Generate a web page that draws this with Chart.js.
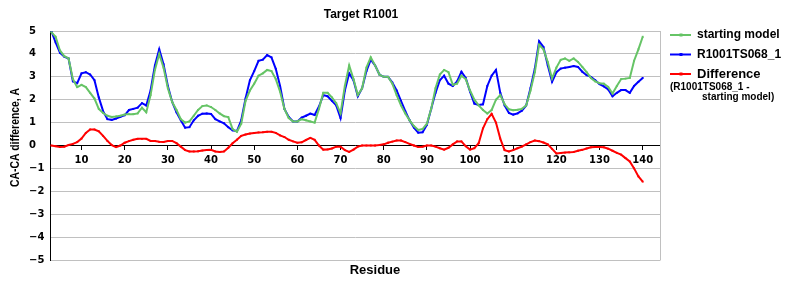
<!DOCTYPE html>
<html>
<head>
<meta charset="utf-8">
<title>Target R1001</title>
<script src="https://cdn.jsdelivr.net/npm/chart.js@4.4.0/dist/chart.umd.min.js"></script>
<style>
  body { margin: 0; background: #fff; }
  canvas { display: block; }
</style>
</head>
<body>
<canvas id="caChart" width="800" height="300"></canvas>
<script>
// CA-CA difference per residue
const firstResidue = 3;

const startingModel = [
  4.95, 4.75, 4.15, 3.9, 3.8, 2.9, 2.55, 2.65, 2.55, 2.3,
  2.05, 1.6, 1.42, 1.3, 1.25, 1.27, 1.3, 1.35, 1.37, 1.37,
  1.4, 1.65, 1.45, 2.2, 3.3, 4.0, 3.4, 2.5, 1.9, 1.55,
  1.15, 1.0, 1.05, 1.3, 1.55, 1.72, 1.75, 1.68, 1.55, 1.4,
  1.28, 1.24, 0.72, 0.6, 0.95, 1.95, 2.4, 2.7, 3.05, 3.15,
  3.3, 3.25, 2.9, 2.35, 1.6, 1.2, 1.05, 1.05, 1.15, 1.1,
  1.05, 1.0, 1.6, 2.3, 2.3, 2.1, 1.85, 1.4, 2.6, 3.5,
  2.9, 2.2, 2.5, 3.4, 3.85, 3.5, 3.1, 3.0, 3.0, 2.7,
  2.2, 1.75, 1.4, 1.1, 0.85, 0.68, 0.72, 0.95, 1.6, 2.5,
  3.1, 3.3, 3.2, 2.65, 2.7, 3.05, 2.9, 2.4, 2.0, 1.75,
  1.55, 1.4, 1.55, 2.0, 2.2, 1.8, 1.58, 1.54, 1.56, 1.6,
  1.75, 2.4, 3.2, 4.4, 4.2, 3.65, 2.92, 3.4, 3.74, 3.8,
  3.7, 3.8, 3.65, 3.43, 3.2, 2.95, 2.8, 2.72, 2.7, 2.56,
  2.27, 2.6, 2.9, 2.92, 2.95, 3.7, 4.2, 4.75
];

const targetModel = [
  5.0, 4.5, 4.05, 3.88, 3.8, 2.8, 2.72, 3.15, 3.2, 3.1,
  2.85, 2.1, 1.5, 1.15, 1.12, 1.18, 1.25, 1.32, 1.55, 1.6,
  1.65, 1.85, 1.75, 2.4, 3.5, 4.2, 3.55, 2.6, 1.9, 1.45,
  1.1, 0.78, 0.8, 1.1, 1.3, 1.39, 1.4, 1.38, 1.15, 1.05,
  0.97, 0.8, 0.66, 0.63, 1.1, 2.05, 2.85, 3.25, 3.7, 3.75,
  3.95, 3.85, 3.35, 2.6, 1.6, 1.25, 1.05, 1.05, 1.22, 1.3,
  1.39, 1.33, 1.7, 2.2, 2.15, 1.95, 1.75, 1.2, 2.4, 3.15,
  2.85, 2.15, 2.5, 3.25, 3.75, 3.5, 3.1, 3.0, 3.0, 2.75,
  2.4, 1.95, 1.5, 1.1, 0.78, 0.56, 0.58, 0.9, 1.6, 2.3,
  2.85, 3.05, 2.7, 2.6, 2.8, 3.22, 2.95, 2.35, 1.83, 1.77,
  1.8, 2.6, 3.05, 3.3, 2.3, 1.75, 1.42, 1.35, 1.4, 1.52,
  1.75, 2.5, 3.35, 4.55, 4.3, 3.5, 2.78, 3.2, 3.36, 3.4,
  3.43, 3.47, 3.43, 3.22, 3.07, 3.0, 2.85, 2.68, 2.58, 2.45,
  2.15, 2.3, 2.42, 2.42, 2.3, 2.6, 2.78, 2.95
];

const difference = [
  0.0, -0.03, -0.07, -0.05, 0.02, 0.07, 0.15, 0.3, 0.55, 0.7,
  0.7, 0.62, 0.42, 0.2, 0.02, -0.07, 0.0, 0.12, 0.19, 0.25,
  0.29, 0.29, 0.29, 0.2, 0.2, 0.16, 0.15, 0.2, 0.2, 0.1,
  -0.05, -0.2, -0.26, -0.26, -0.25, -0.22, -0.2, -0.19, -0.26, -0.28,
  -0.26, -0.1, 0.1, 0.25, 0.42, 0.48, 0.52, 0.55, 0.57, 0.58,
  0.6, 0.6, 0.55, 0.44, 0.37, 0.25, 0.18, 0.12, 0.14, 0.24,
  0.33, 0.25, 0.0, -0.18, -0.17, -0.13, -0.05, -0.05, -0.2, -0.28,
  -0.18, -0.05, 0.0, 0.0, 0.0, 0.0, 0.02, 0.05, 0.12, 0.17,
  0.22, 0.22, 0.15, 0.07, 0.0, -0.07, -0.05, 0.0, 0.0, -0.05,
  -0.12, -0.18, -0.1, 0.05, 0.18, 0.18, -0.03, -0.18, -0.12, 0.1,
  0.75, 1.15, 1.38, 1.0, 0.3, -0.2, -0.26, -0.2, -0.12, -0.05,
  0.05, 0.15, 0.22, 0.19, 0.13, 0.05, -0.15, -0.35, -0.33, -0.31,
  -0.3, -0.28, -0.23, -0.19, -0.13, -0.08, -0.07, -0.07, -0.08, -0.14,
  -0.23, -0.32, -0.4, -0.55, -0.7, -1.0, -1.35, -1.58
];

const xTickValues = [10, 20, 30, 40, 50, 60, 70, 80, 90, 100, 110, 120, 130, 140];
const yTickValues = [-5, -4, -3, -2, -1, 0, 1, 2, 3, 4, 5];

const residues = startingModel.map((_, i) => firstResidue + i);

const GREEN = '#66c466';
const BLUE = '#0000ff';
const RED = '#ff0000';
const BOLD = '"Liberation Sans", Arial, sans-serif';

function toPoints(values) {
    return values.map((v, i) => ({ x: residues[i], y: v }));
}

function series(label, values, color) {
    return {
        label: label,
        data: toPoints(values),
        borderColor: color,
        backgroundColor: color,
        borderWidth: 2,
        pointStyle: 'rect',
        pointRadius: 1.3,
        pointBorderWidth: 0,
        tension: 0,
        fill: false
    };
}

// title, axis titles, legend and the plot's right border
const chartText = {
    id: 'chartText',
    afterDraw(chart) {
        const ctx = chart.ctx;
        const area = chart.chartArea;
        ctx.save();

        ctx.strokeStyle = '#c0c0c0';
        ctx.lineWidth = 1;
        ctx.beginPath();
        ctx.moveTo(area.right + 0.5, area.top);
        ctx.lineTo(area.right + 0.5, area.bottom + 0.5);
        ctx.stroke();

        ctx.fillStyle = '#000';
        ctx.textBaseline = 'middle';
        ctx.textAlign = 'center';
        ctx.font = 'bold 12px ' + BOLD;
        ctx.fillText('Target R1001', 361, 15);

        ctx.font = 'bold 13px ' + BOLD;
        ctx.fillText('Residue', 375, 270);

        ctx.save();
        ctx.translate(15, 137.5);
        ctx.rotate(-Math.PI / 2);
        const yTitle = 'CA-CA difference, A';
        const w = ctx.measureText(yTitle).width;
        ctx.scale(99 / w, 1);
        ctx.fillText(yTitle, 0, 0);
        ctx.restore();

        // legend
        const rows = [35, 54.5, 74];
        const sizes = [12, 12, 13];
        chart.data.datasets.forEach((ds, i) => {
            const y = rows[i];
            ctx.strokeStyle = ds.borderColor;
            ctx.lineWidth = 2;
            ctx.beginPath();
            ctx.moveTo(670, y);
            ctx.lineTo(691, y);
            ctx.stroke();
            ctx.fillStyle = ds.borderColor;
            ctx.fillRect(679.5, y - 1.5, 3, 3);
            ctx.fillStyle = '#000';
            ctx.textAlign = 'left';
            ctx.font = 'bold ' + sizes[i] + 'px ' + BOLD;
            ctx.fillText(ds.label, 697, y);
        });
        ctx.font = 'bold 10px ' + BOLD;
        ctx.fillText('(R1001TS068_1 -', 670, 87);
        ctx.fillText('starting model)', 702, 97.5);

        ctx.restore();
    }
};

const config = {
    type: 'line',
    data: {
        datasets: [
            series('starting model', startingModel, GREEN),
            series('R1001TS068_1', targetModel, BLUE),
            series('Difference', difference, RED)
        ]
    },
    options: {
        responsive: false,
        animation: false,
        layout: {
            padding: { left: 29, right: 140, top: 31, bottom: 40 }
        },
        plugins: {
            legend: { display: false },
            title: { display: false },
            tooltip: { enabled: false }
        },
        scales: {
            x: {
                type: 'linear',
                position: { y: 0 },
                min: 2.7,
                max: 144,
                afterBuildTicks: (scale) => {
                    scale.ticks = xTickValues.map(v => ({ value: v }));
                },
                grid: {
                    drawOnChartArea: false,
                    drawTicks: true,
                    tickLength: 4,
                    color: '#000'
                },
                border: { color: '#000', width: 1 },
                ticks: {
                    color: '#000',
                    padding: 5,
                    maxRotation: 0,
                    font: { family: '"DejaVu Sans", Verdana, sans-serif', size: 10, weight: 'bold' }
                }
            },
            y: {
                min: -5,
                max: 5,
                afterBuildTicks: (scale) => {
                    scale.ticks = yTickValues.map(v => ({ value: v }));
                },
                afterFit: (scale) => {
                    scale.width = 21;
                },
                grid: {
                    color: '#c0c0c0',
                    drawTicks: false
                },
                border: { color: '#000', width: 1 },
                ticks: {
                    color: '#000',
                    crossAlign: 'far',
                    callback: (v) => String(v).replace('-', '\u2212'),
                    font: { family: '"DejaVu Sans", Verdana, sans-serif', size: 10, weight: 'bold' }
                }
            }
        }
    },
    plugins: [chartText]
};

window.addEventListener('load', () => {
    const canvas = document.getElementById('caChart');
    new Chart(canvas.getContext('2d'), config);
});
</script>
</body>
</html>
